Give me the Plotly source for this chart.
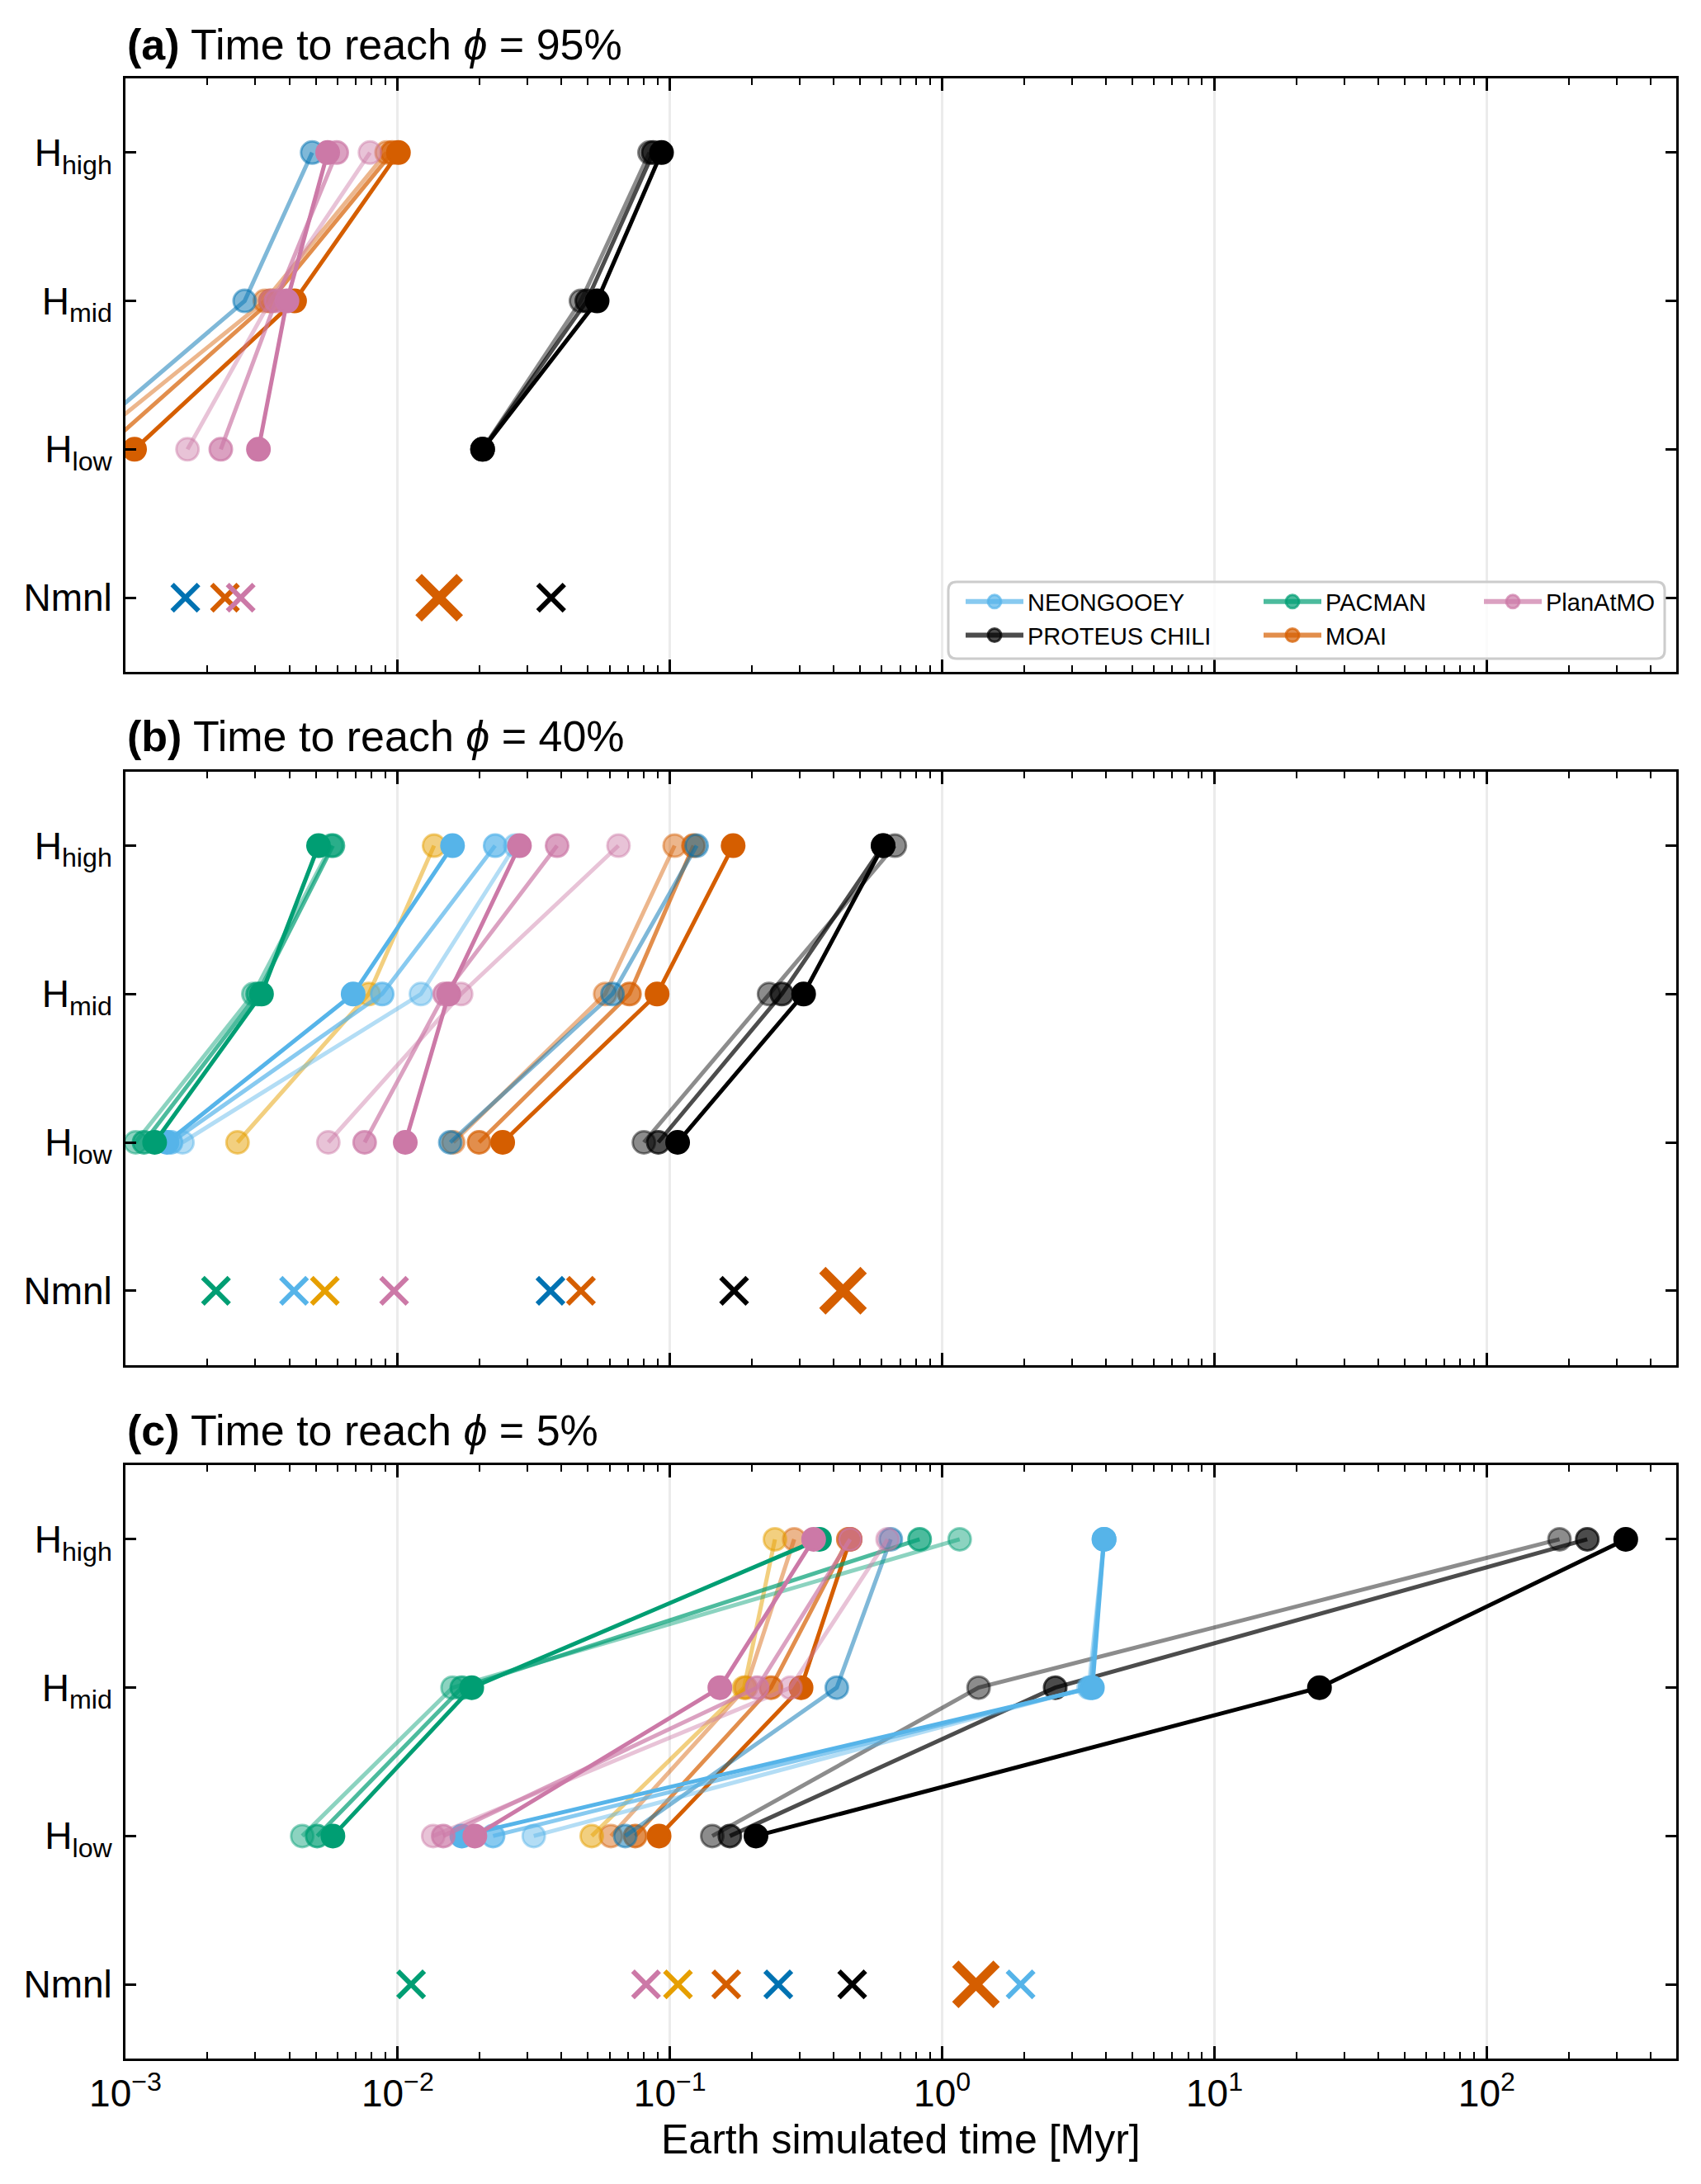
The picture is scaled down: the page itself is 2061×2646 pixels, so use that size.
import plotly.graph_objects as go

# ---------------- data ----------------
ROWS = ["Nmnl", "Hlow", "Hmid", "Hhigh"]
ROW_LABELS = ["Nmnl", "H<sub>low</sub>", "H<sub>mid</sub>", "H<sub>high</sub>"]
H_ROWS = ["Hlow", "Hmid", "Hhigh"]

PANEL_TITLES = [
    "<b>(a)</b> Time to reach <i>ϕ</i> = 95%",
    "<b>(b)</b> Time to reach <i>ϕ</i> = 40%",
    "<b>(c)</b> Time to reach <i>ϕ</i> = 5%",
]
X_TITLE = "Earth simulated time [Myr]"
X_TICK_VALUES = [1e-3, 1e-2, 1e-1, 1, 10, 100]
X_TICK_LABELS = ["10<sup>−3</sup>", "10<sup>−2</sup>", "10<sup>−1</sup>",
                 "10<sup>0</sup>", "10<sup>1</sup>", "10<sup>2</sup>"]

LEGEND_NAMES = {"NEON": "NEONGOOEY", "PROTEUS": "PROTEUS CHILI",
                "PACMAN": "PACMAN", "MOAI": "MOAI", "PLANATMO": "PlanAtMO"}

# Each series: list of variants (faint, medium, full); each variant = [Hlow, Hmid, Hhigh] in Myr
# ---- panel (a): phi = 95 %
A_MOAI = [[0.00069, 0.00325, 0.0091], [0.00083, 0.00341, 0.00954], [0.00108, 0.00418, 0.01006]]
A_PROTEUS = [[0.0205, 0.0471, 0.0841], [0.0205, 0.0495, 0.0868], [0.0205, 0.054, 0.0931]]
A_NEON_ALT = [[0.00063, 0.00274, 0.00485]]
A_PLANATMO = [[0.00169, 0.00341, 0.00791], [0.00224, 0.00357, 0.00597], [0.00308, 0.00392, 0.00553]]
A_NMNL_MODELS = ["NEON_ALT", "MOAI", "PLANATMO", "MOAI_REF", "PROTEUS"]
A_NMNL_TIMES = [0.00166, 0.00232, 0.00265, 0.0142, 0.0366]

# ---- panel (b): phi = 40 %
B_MOAI = [[0.0160, 0.0578, 0.1040], [0.0199, 0.0710, 0.1220], [0.0243, 0.0897, 0.1706]]
B_PROTEUS = [[0.0802, 0.2312, 0.6699], [0.0906, 0.2576, 0.6066], [0.1067, 0.3096, 0.6066]]
B_YELLOW = [[0.00258, 0.00783, 0.0136]]
B_NEON_ALT = [[0.0156, 0.0615, 0.1253]]
B_NEON = [[0.00162, 0.01217, 0.0270], [0.00147, 0.00877, 0.0228], [0.00142, 0.00686, 0.0159]]
B_PACMAN = [[0.00109, 0.00295, 0.0057], [0.00117, 0.00306, 0.00578], [0.00128, 0.00316, 0.00512]]
B_PLANATMO = [[0.00556, 0.0171, 0.0647], [0.00756, 0.01487, 0.0385], [0.01066, 0.0154, 0.0280]]
B_NMNL_MODELS = ["PACMAN", "NEON", "YELLOW", "PLANATMO", "NEON_ALT", "MOAI", "PROTEUS", "MOAI_REF"]
B_NMNL_TIMES = [0.00215, 0.00416, 0.0054, 0.0097, 0.0364, 0.0471, 0.172, 0.432]

# ---- panel (c): phi = 5 %
C_MOAI = [[0.0607, 0.190, 0.286], [0.0745, 0.235, 0.452], [0.0912, 0.303, 0.459]]
C_PROTEUS = [[0.143, 1.36, 185.0], [0.166, 2.60, 234.0], [0.207, 24.3, 324.0]]
C_YELLOW = [[0.0516, 0.187, 0.243]]
C_NEON_ALT = [[0.0685, 0.410, 0.647]]
C_NEON = [[0.0316, 3.45, 3.93], [0.0224, 3.50, 3.93], [0.0172, 3.56, 3.93]]
C_PACMAN = [[0.00446, 0.0159, 1.159], [0.00506, 0.0172, 0.826], [0.00578, 0.0187, 0.354]]
C_PLANATMO = [[0.0135, 0.277, 0.630], [0.0147, 0.209, 0.459], [0.0192, 0.1525, 0.337]]
C_NMNL_MODELS = ["PACMAN", "PLANATMO", "YELLOW", "MOAI", "NEON_ALT", "PROTEUS", "MOAI_REF", "NEON"]
C_NMNL_TIMES = [0.0112, 0.0817, 0.107, 0.161, 0.25, 0.467, 1.33, 1.94]

PANELS = [
    ([("MOAI", A_MOAI), ("PROTEUS", A_PROTEUS), ("NEON_ALT", A_NEON_ALT), ("PLANATMO", A_PLANATMO)],
     A_NMNL_MODELS, A_NMNL_TIMES),
    ([("MOAI", B_MOAI), ("PROTEUS", B_PROTEUS), ("YELLOW", B_YELLOW), ("NEON_ALT", B_NEON_ALT),
      ("NEON", B_NEON), ("PACMAN", B_PACMAN), ("PLANATMO", B_PLANATMO)],
     B_NMNL_MODELS, B_NMNL_TIMES),
    ([("MOAI", C_MOAI), ("PROTEUS", C_PROTEUS), ("YELLOW", C_YELLOW), ("NEON_ALT", C_NEON_ALT),
      ("NEON", C_NEON), ("PACMAN", C_PACMAN), ("PLANATMO", C_PLANATMO)],
     C_NMNL_MODELS, C_NMNL_TIMES),
]

# ---------------- style ----------------
FONT = "Liberation Sans, Arial, Helvetica, sans-serif"
COLORS = {"NEON": "#56B4E9", "NEON_ALT": "#0072B2", "PROTEUS": "#000000", "PACMAN": "#009E73",
          "MOAI": "#D55E00", "MOAI_REF": "#D55E00", "PLANATMO": "#CC79A7", "YELLOW": "#E69F00"}
VARIANT_ALPHA = [0.45, 0.7, 1.0]
SINGLE_ALPHA = 0.5
LEGEND_ALPHA = 0.7


def rgba(hexc, a):
    h = hexc.lstrip("#")
    r, g, b = int(h[0:2], 16), int(h[2:4], 16), int(h[4:6], 16)
    return f"rgba({r},{g},{b},{a})"


fig = go.Figure()

TOTAL_H = 2646
TOP, BOTTOM = 95, 152
PLOT_H = TOTAL_H - TOP - BOTTOM
DOMAINS = [[0.7003, 1.0], [0.3503, 0.6500], [0.0, 0.2997]]

for i, (series, nm_models, nm_times) in enumerate(PANELS):
    xa = "x" if i == 0 else f"x{i+1}"
    ya = "y" if i == 0 else f"y{i+1}"
    for key, variants in series:
        col = COLORS[key]
        for j, vals in enumerate(variants):
            a = SINGLE_ALPHA if len(variants) == 1 else VARIANT_ALPHA[j]
            fig.add_trace(go.Scatter(
                x=vals, y=H_ROWS, xaxis=xa, yaxis=ya, mode="lines+markers",
                line=dict(color=rgba(col, a), width=5),
                marker=dict(symbol="circle", size=27, color=rgba(col, a),
                            line=dict(color=rgba(col, a), width=3)),
                showlegend=False, hoverinfo="x+name", name=key))
    for key, t in zip(nm_models, nm_times):
        big = key == "MOAI_REF"
        fig.add_trace(go.Scatter(
            x=[t], y=["Nmnl"], xaxis=xa, yaxis=ya, mode="markers",
            marker=dict(symbol="x-thin", size=50 if big else 32,
                        line=dict(color=COLORS[key], width=11 if big else 6)),
            showlegend=False, name=key))

# legend entries (three column legends inside panel a)
LEGEND_LAYOUT = [("legend", ["NEON", "PROTEUS"]), ("legend2", ["PACMAN", "MOAI"]),
                 ("legend3", ["PLANATMO"])]
for lg, keys in LEGEND_LAYOUT:
    for key in keys:
        col = COLORS[key]
        fig.add_trace(go.Scatter(
            x=[None], y=[None], xaxis="x", yaxis="y", mode="lines+markers",
            name=LEGEND_NAMES[key], legend=lg,
            line=dict(color=rgba(col, LEGEND_ALPHA), width=6),
            marker=dict(symbol="circle", size=16, color=rgba(col, LEGEND_ALPHA),
                        line=dict(color=rgba(col, LEGEND_ALPHA), width=3))))

PLOT_L, PLOT_R = 152, 30
PLOT_W = 2061 - PLOT_L - PLOT_R


def px_x(xpix):
    return (xpix - PLOT_L) / PLOT_W


def px_y(ypix):
    return (TOTAL_H - BOTTOM - ypix) / PLOT_H


minor_vals = [k * 10.0 ** e for e in range(-3, 3) for k in range(2, 10) if k * 10.0 ** e < 500]

layout = dict(
    width=2061, height=2646,
    margin=dict(l=PLOT_L, r=PLOT_R, t=TOP, b=BOTTOM, pad=0),
    paper_bgcolor="white", plot_bgcolor="white",
    font=dict(family=FONT, size=46, color="black"),
    annotations=[], shapes=[],
)
title_px = [54.0, 892.0, 1733.0]
for i in range(3):
    xk = "xaxis" if i == 0 else f"xaxis{i+1}"
    yk = "yaxis" if i == 0 else f"yaxis{i+1}"
    ya = "y" if i == 0 else f"y{i+1}"
    xa = "x" if i == 0 else f"x{i+1}"
    layout[xk] = dict(
        type="log", range=[-3, 2.696], domain=[0, 1], anchor=ya,
        tickmode="array", tickvals=X_TICK_VALUES, ticktext=X_TICK_LABELS,
        showticklabels=(i == 2), ticks="inside", ticklen=15, tickwidth=3, tickcolor="black",
        ticklabelstandoff=0,
        minor=dict(tickmode="array", tickvals=minor_vals, ticks="inside", ticklen=8,
                   tickwidth=2, tickcolor="black", showgrid=False),
        showgrid=True, gridcolor="#ebebeb", gridwidth=3, zeroline=False,
        showline=True, linecolor="black", linewidth=3, mirror="allticks",
        tickfont=dict(size=46, family=FONT),
    )
    layout[yk] = dict(
        type="category", categoryorder="array", categoryarray=ROWS, range=[-0.5, 3.5],
        domain=DOMAINS[i], anchor=xa,
        tickmode="array", tickvals=ROWS, ticktext=ROW_LABELS,
        ticks="inside", ticklen=13, tickwidth=3, tickcolor="black", ticklabelstandoff=4,
        showgrid=False, zeroline=False,
        showline=True, linecolor="black", linewidth=3, mirror="allticks",
        tickfont=dict(size=46, family=FONT),
    )
    layout["annotations"].append(dict(
        text=PANEL_TITLES[i], xref="paper", yref="paper", x=0, xanchor="left",
        y=px_y(title_px[i]), yanchor="middle", showarrow=False,
        font=dict(size=52, family=FONT)))

layout["annotations"].append(dict(
    text=X_TITLE, xref="paper", yref="paper", x=0.5, xanchor="center",
    y=px_y(2592), yanchor="middle", showarrow=False, font=dict(size=50, family=FONT)))

# legend frame (rounded)
x0, x1 = px_x(1149), px_x(2017)
y0, y1 = px_y(798), px_y(705)
rx, ry = 10 / PLOT_W, 10 / PLOT_H
path = (f"M{x0+rx},{y1} L{x1-rx},{y1} Q{x1},{y1} {x1},{y1-ry} L{x1},{y0+ry} "
        f"Q{x1},{y0} {x1-rx},{y0} L{x0+rx},{y0} Q{x0},{y0} {x0},{y0+ry} "
        f"L{x0},{y1-ry} Q{x0},{y1} {x0+rx},{y1} Z")
layout["shapes"].append(dict(type="path", xref="paper", yref="paper", path=path,
                             line=dict(color="#cccccc", width=3),
                             fillcolor="rgba(255,255,255,0.8)", layer="above"))

leg_common = dict(xanchor="left", yanchor="middle", bgcolor="rgba(0,0,0,0)", borderwidth=0,
                  font=dict(size=29, family=FONT), itemwidth=70, tracegroupgap=0,
                  orientation="v", itemclick=False, itemdoubleclick=False)
layout["legend"] = dict(x=px_x(1165), y=px_y(749.5), **leg_common)
layout["legend2"] = dict(x=px_x(1526), y=px_y(749.5), **leg_common)
layout["legend3"] = dict(x=px_x(1793), y=px_y(729), **leg_common)

fig.update_layout(**layout)
fig.write_html("out.html")
